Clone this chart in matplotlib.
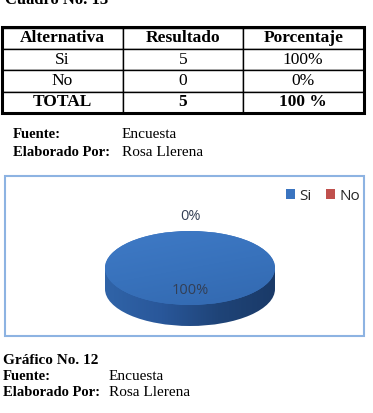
import numpy as np
import matplotlib
matplotlib.use("Agg")
from matplotlib import pyplot as plt
from matplotlib.patches import Rectangle, Ellipse
from matplotlib.colors import LinearSegmentedColormap

# Datos
# ========================================
columnas = ['Alternativa', 'Resultado', 'Porcentaje']
alternativas = ['Si', 'No']
resultados = [5, 0]
total = sum(resultados)
porcentajes = ['%d%%' % round(100 * r / total) for r in resultados]
fila_total = ['TOTAL', str(total), '100 %']

titulo_cuadro = 'Cuadro No. 13'
titulo_grafico = 'Gráfico No. 12'
fuente = 'Encuesta'
autor = 'Rosa Llerena'

colores = ['#3A74C0', '#C0504D']
serif = 'Liberation Serif'
sans = 'Open Sans'

W, H = 373, 413
fig = plt.figure(figsize=(W / 100, H / 100), dpi=100)

# Ejes de fondo en pixeles
bg = fig.add_axes([0, 0, 1, 1])
bg.set_xlim(0, W)
bg.set_ylim(H, 0)
bg.axis('off')


def fig_box(x0, y0, x1, y1):
    return [x0 / W, 1 - y1 / H, (x1 - x0) / W, (y1 - y0) / H]


# titulo cortado por el borde superior, como en el original
bg.text(5, 4, titulo_cuadro, family=serif, weight='bold', fontsize=12,
        va='baseline', ha='left')

# Tabla
ax_t = fig.add_axes(fig_box(2, 27.5, 363.5, 113))
ax_t.axis('off')
filas = [[a, str(r), p] for a, r, p in zip(alternativas, resultados, porcentajes)]
filas.append(fila_total)
tbl = ax_t.table(cellText=filas, colLabels=columnas, cellLoc='center',
                 bbox=[0, 0, 1, 1])
tbl.auto_set_font_size(False)
for (i, j), cell in tbl.get_celld().items():
    cell.set_linewidth(1.0)
    txt = cell.get_text()
    txt.set_fontfamily(serif)
    txt.set_fontsize(12.5)
    if i == 0 or i == len(filas):
        txt.set_fontweight('bold')
ax_t.add_patch(Rectangle((0, 0), 1, 1, transform=ax_t.transAxes, fill=False,
                         lw=2.2, ec='black', clip_on=False, zorder=10))

# Fuente / Elaborado (tabla)
for y, lab, val in [(135, 'Fuente:', fuente), (153, 'Elaborado Por:', autor)]:
    bg.text(13, y, lab, family=serif, weight='bold', fontsize=10.5, va='center')
    bg.text(122, y, val, family=serif, fontsize=11, va='center')

# Marco del grafico
bg.add_patch(Rectangle((4.5, 175.5), 359, 160.5, fill=False, ec='#8DB3E2', lw=1.5))

# Pastel 3D
depth = 0.57
ax_p = fig.add_axes(fig_box(105, 231, 275, 326))
wedges, _ = ax_p.pie(resultados, colors=colores, startangle=90, radius=1,
                     wedgeprops=dict(lw=0))
for w in wedges:
    w.set_zorder(3)

# lado del cilindro
lado_cmap = LinearSegmentedColormap.from_list(
    'lado', ['#3064A8', '#29579A', '#1F4478', '#1A3A68'])
gx = np.linspace(0, 1, 200)[None, :]
elip = Ellipse((0, -depth), 2, 2, lw=0, fc='none')
rect = Rectangle((-1, -depth), 2, depth, lw=0, fc='none')
ax_p.add_patch(elip)
ax_p.add_patch(rect)
for clip in (elip, rect):
    im = ax_p.imshow(gx, cmap=lado_cmap, extent=(-1, 1, -1 - depth, 0),
                     aspect='auto', zorder=1)
    im.set_clip_path(clip)

# cara superior con degradado suave
top_cmap = LinearSegmentedColormap.from_list('top', ['#3F7AC6', '#3872BC', '#3369B0'])
gy = np.linspace(0, 1, 200)[:, None] * 0.7 + np.linspace(0, 1, 200)[None, :] * 0.3
im = ax_p.imshow(gy, cmap=top_cmap, extent=(-1, 1, -1, 1), origin='upper',
                 aspect='auto', zorder=4)
im.set_clip_path(wedges[0])

# etiquetas de porcentaje
for w, p, r in zip(wedges, porcentajes, resultados):
    ang = np.deg2rad((w.theta1 + w.theta2) / 2)
    d = 0.62 if r / total > 0.5 else 1.38
    ax_p.text(d * np.cos(ang), d * np.sin(ang), p, family=sans, fontsize=10.5,
              color='#333F55', ha='center', va='center', zorder=6)

ax_p.set_aspect('auto')
ax_p.set_xlim(-1, 1)
ax_p.set_ylim(-1 - depth, 1)
ax_p.axis('off')

fig.legend(wedges, alternativas, ncol=2, loc='center',
           bbox_to_anchor=(323 / W, 1 - 196 / H), frameon=False,
           prop=dict(family=sans, size=11), handlelength=0.6, handleheight=0.6,
           handletextpad=0.3, columnspacing=0.9, labelcolor='#262626')

# Pie del grafico
bg.text(3, 360, titulo_grafico, family=serif, weight='bold', fontsize=11, va='center')
for y, lab, val in [(376, 'Fuente:', fuente), (392, 'Elaborado Por:', autor)]:
    bg.text(3, y, lab, family=serif, weight='bold', fontsize=10.5, va='center')
    bg.text(109, y, val, family=serif, fontsize=11, va='center')

fig.savefig('out.png', dpi=100)
